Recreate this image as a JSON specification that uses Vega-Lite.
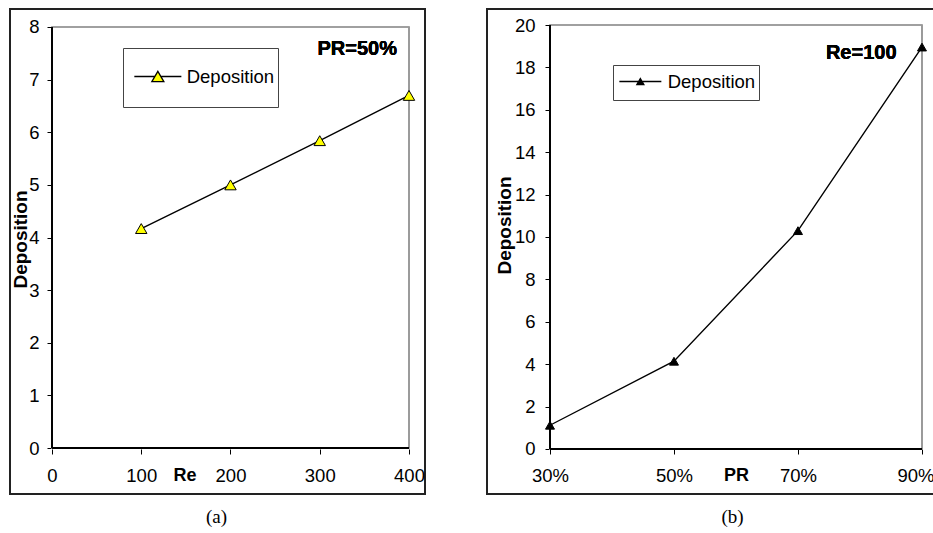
{
  "$schema": "https://vega.github.io/schema/vega-lite/v6.json",
  "padding": {"left": 9, "top": 8, "right": 0, "bottom": 0},
  "background": "white",
  "config": {
    "view": {"stroke": "#222", "strokeWidth": 2, "fill": "white"},
    "font": "Liberation Sans",
    "axis": {"labelFont": "Liberation Sans", "titleFont": "Liberation Sans", "labelColor": "black", "titleColor": "black", "tickColor": "black", "domain": false, "grid": false, "tickSize": 5, "labelFontSize": 18.5, "titleFontSize": 18, "titleFontWeight": "bold", "labelOverlap": false, "labelFlush": false, "labelBound": false},
    "title": {"font": "Liberation Serif", "fontSize": 19, "fontWeight": "normal", "color": "black", "orient": "bottom", "anchor": "middle"}
  },
  "datasets": {
    "re": [
      {"Re": 100, "Deposition": 4.17, "series": "Deposition"},
      {"Re": 200, "Deposition": 5.0, "series": "Deposition"},
      {"Re": 300, "Deposition": 5.84, "series": "Deposition"},
      {"Re": 400, "Deposition": 6.7, "series": "Deposition"}
    ],
    "pr": [
      {"PR": 30, "Deposition": 1.12, "series": "Deposition"},
      {"PR": 50, "Deposition": 4.14, "series": "Deposition"},
      {"PR": 70, "Deposition": 10.3, "series": "Deposition"},
      {"PR": 90, "Deposition": 18.96, "series": "Deposition"}
    ]
  },
  "resolve": {"scale": {"stroke": "independent", "x": "independent", "y": "independent"}, "legend": {"stroke": "independent"}},
  "spacing": 60,
  "hconcat": [
    {
      "width": 415,
      "height": 485,
      "title": {"text": "(a)", "offset": 14, "dx": -1},
      "data": {"name": "re"},
      "layer": [
        {
          "mark": {"type": "rect", "fill": null, "stroke": "#999", "strokeWidth": 1.2},
          "encoding": {
            "x": {"datum": 0, "type": "quantitative", "scale": {"domain": [-47.06, 417.93], "nice": false, "zero": false},
              "axis": {"values": [0, 100, 200, 300, 400], "offset": -45, "labelBaseline": "middle", "labelPadding": 21, "title": "Re", "titleX": 174.5, "titleY": 26, "titleBaseline": "middle", "titleAlign": "center", "titleAnchor": null}},
            "x2": {"datum": 400},
            "y": {"datum": 0, "type": "quantitative", "scale": {"domain": [-0.874, 8.342], "nice": false, "zero": false},
              "axis": {"values": [0, 1, 2, 3, 4, 5, 6, 7, 8], "offset": -42, "labelPadding": 8, "title": "Deposition", "titleX": -32, "titleY": 230, "titleAngle": -90, "titleBaseline": "middle", "titleAlign": "center", "titleFontSize": 19}},
            "y2": {"datum": 8}
          }
        },
        {
          "mark": {"type": "rule", "color": "black", "strokeWidth": 1.3},
          "encoding": {"x": {"datum": 0}, "y": {"datum": 0}, "y2": {"datum": 8}}
        },
        {
          "mark": {"type": "rule", "color": "black", "strokeWidth": 1.3},
          "encoding": {"x": {"datum": 0}, "x2": {"datum": 400}, "y": {"datum": 0}}
        },
        {
          "mark": {"type": "line", "strokeWidth": 1.4},
          "encoding": {
            "x": {"field": "Re", "type": "quantitative"},
            "y": {"field": "Deposition", "type": "quantitative"},
            "stroke": {"field": "series", "type": "nominal", "scale": {"range": ["black"]},
              "legend": {"title": null, "orient": "none", "legendX": 113, "legendY": 39, "padding": 3, "strokeColor": "#444", "fillColor": "white",
                "labelFont": "Liberation Sans", "labelFontSize": 18.5, "labelColor": "black", "labelOffset": 3.35, "symbolOffset": 6.35,
                "symbolType": "M-0.96,0H-0.12M0.12,0H0.96M0,-0.212L0.245,0.212L-0.245,0.212ZM0,1", "symbolSize": 2401, "symbolStrokeWidth": 1.3, "symbolFillColor": "#ffff00", "symbolStrokeColor": "black"}}
          }
        },
        {
          "mark": {"type": "point", "shape": "triangle-up", "filled": true, "fill": "#ffff00", "stroke": "black", "strokeWidth": 1, "size": 130, "opacity": 1},
          "encoding": {
            "x": {"field": "Re", "type": "quantitative"},
            "y": {"field": "Deposition", "type": "quantitative"}
          }
        },
        {
          "mark": {"type": "text", "text": "PR=50%", "fontWeight": "bold", "fontSize": 20, "font": "Liberation Sans", "align": "center", "baseline": "middle", "color": "black"},
          "encoding": {"x": {"datum": 342}, "y": {"datum": 7.58}}
        }
      ]
    },
    {
      "width": 447,
      "height": 485,
      "title": {"text": "(b)", "offset": 14, "dx": 22},
      "data": {"name": "pr"},
      "layer": [
        {
          "mark": {"type": "rect", "fill": null, "stroke": "#999", "strokeWidth": 1.2},
          "encoding": {
            "x": {"datum": 30, "type": "quantitative", "scale": {"domain": [19.84, 91.94], "nice": false, "zero": false},
              "axis": {"values": [30, 50, 70, 90], "labelExpr": "datum.value + '%'", "offset": -45, "labelBaseline": "middle", "labelPadding": 21,
                "labelAlign": {"condition": {"test": "datum.value === 90", "value": "right"}, "value": "center"},
                "labelOffset": {"condition": {"test": "datum.value === 90", "value": 12}, "value": 0},
                "title": "PR", "titleX": 249, "titleY": 26, "titleBaseline": "middle", "titleAlign": "center", "titleAnchor": null}},
            "x2": {"datum": 90},
            "y": {"datum": 0, "type": "quantitative", "scale": {"domain": [-2.123, 20.755], "nice": false, "zero": false},
              "axis": {"values": [0, 2, 4, 6, 8, 10, 12, 14, 16, 18, 20], "offset": -63, "labelPadding": 10, "title": "Deposition", "titleX": -46, "titleY": 216, "titleAngle": -90, "titleBaseline": "middle", "titleAlign": "center", "titleFontSize": 19}},
            "y2": {"datum": 20}
          }
        },
        {
          "mark": {"type": "rule", "color": "black", "strokeWidth": 1.3},
          "encoding": {"x": {"datum": 30}, "y": {"datum": 0}, "y2": {"datum": 20}}
        },
        {
          "mark": {"type": "rule", "color": "black", "strokeWidth": 1.3},
          "encoding": {"x": {"datum": 30}, "x2": {"datum": 90}, "y": {"datum": 0}}
        },
        {
          "mark": {"type": "line", "strokeWidth": 1.4},
          "encoding": {
            "x": {"field": "PR", "type": "quantitative"},
            "y": {"field": "Deposition", "type": "quantitative"},
            "stroke": {"field": "series", "type": "nominal", "scale": {"range": ["black"]},
              "legend": {"title": null, "orient": "none", "legendX": 126, "legendY": 56, "padding": 3, "strokeColor": "#444", "fillColor": "white",
                "labelFont": "Liberation Sans", "labelFontSize": 18.5, "labelColor": "black", "labelOffset": 13.85, "symbolOffset": 10.85,
                "symbolType": "M-1.68,0H1.68M0,-0.24L0.28,0.24L-0.28,0.24ZM0,1", "symbolSize": 625, "symbolStrokeWidth": 1.3, "symbolFillColor": "black", "symbolStrokeColor": "black"}}
          }
        },
        {
          "mark": {"type": "point", "shape": "triangle-up", "filled": true, "fill": "black", "stroke": "black", "strokeWidth": 1, "size": 81, "opacity": 1},
          "encoding": {
            "x": {"field": "PR", "type": "quantitative"},
            "y": {"field": "Deposition", "type": "quantitative"}
          }
        },
        {
          "mark": {"type": "text", "text": "Re=100", "fontWeight": "bold", "fontSize": 20, "font": "Liberation Sans", "align": "center", "baseline": "middle", "color": "black"},
          "encoding": {"x": {"datum": 80.2}, "y": {"datum": 18.68}}
        }
      ]
    }
  ]
}
